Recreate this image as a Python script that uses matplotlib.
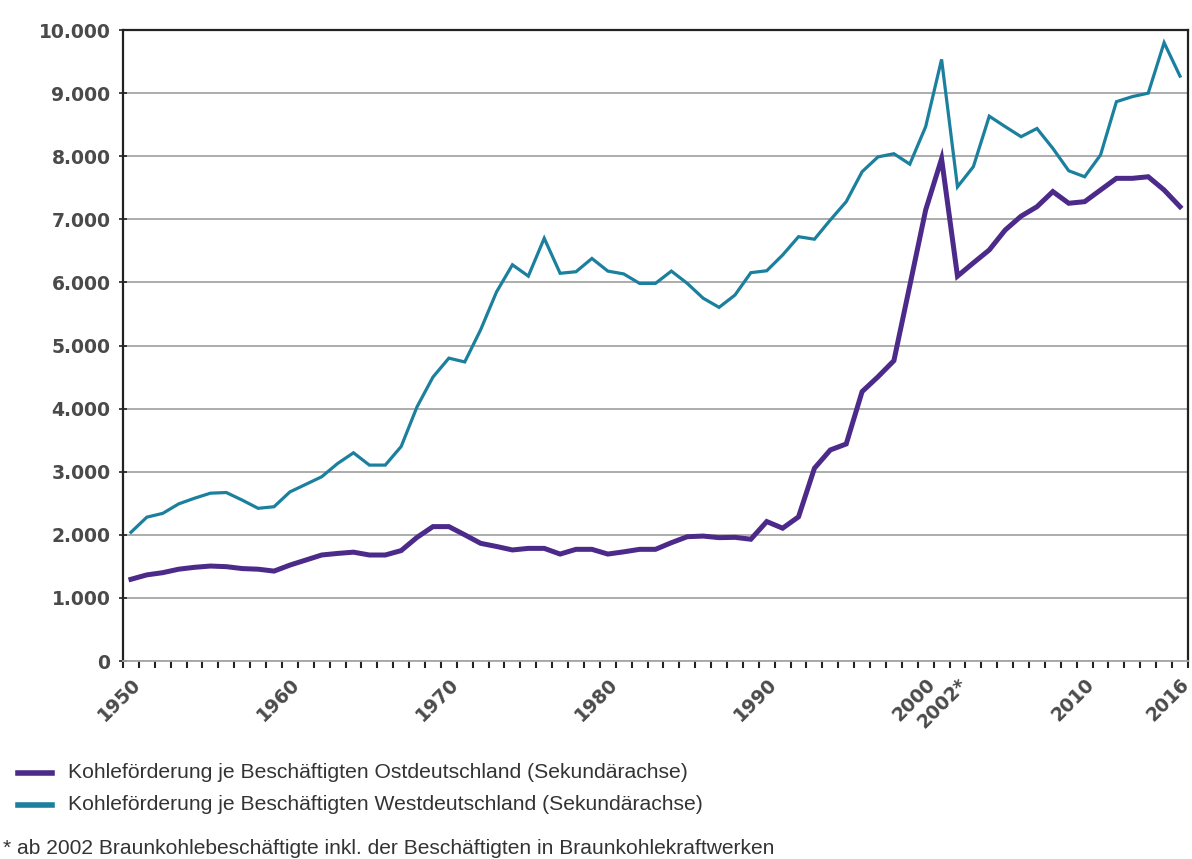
import numpy as np
import matplotlib
matplotlib.use("Agg")
import matplotlib.pyplot as plt
from matplotlib.ticker import FuncFormatter, FixedLocator

PURPLE, TEAL, GRID = "#4B2A8A", "#1B7F9E", "#a6a6a6"

years = list(range(1950, 2017))
west = [2040, 2280, 2340, 2490, 2580, 2660, 2670, 2550, 2420, 2445,
        2680, 2800, 2920, 3130, 3300, 3105, 3105, 3400, 4030, 4500,
        4800, 4740, 5250, 5850, 6280, 6100, 6700, 6145, 6170, 6380,
        6180, 6135, 5985, 5985, 6180, 5985, 5750, 5605, 5800, 6155,
        6185, 6435, 6725, 6685, 6990, 7280, 7755, 7990, 8040, 7875,
        8470, 9535, 7515, 7835, 8635, 8470, 8310, 8440, 8125, 7770,
        7675, 8020, 8865, 8945, 9000, 9800, 9270]
east = [1295, 1365, 1400, 1455, 1485, 1505, 1495, 1465, 1455, 1425,
        1520, 1600, 1680, 1705, 1725, 1680, 1680, 1750, 1960, 2130,
        2130, 2000, 1865, 1815, 1760, 1785, 1785, 1695, 1770, 1770,
        1695, 1730, 1770, 1770, 1875, 1970, 1980, 1955, 1960, 1930,
        2210, 2105, 2285, 3055, 3345, 3440, 4270, 4505, 4760, 5950,
        7150, 7960, 6100, 6310, 6515, 6830, 7050, 7200, 7440, 7255,
        7280, 7465, 7650, 7650, 7675, 7465, 7200]
label_years = [1950, 1960, 1970, 1980, 1990, 2000, 2002, 2010, 2016]
label_text = ["1950", "1960", "1970", "1980", "1990", "2000", "2002*", "2010", "2016"]

fig = plt.figure(figsize=(11.92, 8.59), dpi=100)
ax = fig.add_axes([0.1032, 0.2305, 0.8934, 0.7345])

ax.plot(years, west, color=TEAL, lw=2.3, solid_joinstyle="miter", zorder=3)
ax.plot(years, east, color=PURPLE, lw=3.6, solid_joinstyle="miter", zorder=4)

ax.set_xlim(1949.5, 2016.5)
ax.set_ylim(0, 10000)
ax.set_yticks(range(0, 10001, 1000))
ax.yaxis.set_major_formatter(FuncFormatter(lambda v, _: f"{int(v):,}".replace(",", ".")))
ax.grid(axis="y", color=GRID, lw=1.3, zorder=1)

ax.set_xticks(label_years)
ax.set_xticklabels(label_text, rotation=45, ha="right", va="top", rotation_mode="anchor")
ax.xaxis.set_minor_locator(FixedLocator(np.arange(1949.5, 2017, 1)))
ax.tick_params(axis="x", which="major", length=0, pad=10)
ax.tick_params(axis="x", which="minor", length=5, width=1.5, color="#222222", direction="out")
ax.tick_params(axis="y", length=6, width=1.2, direction="inout", color="#222222", pad=6)
for lab in ax.get_xticklabels() + ax.get_yticklabels():
    lab.set_fontfamily("DejaVu Sans")
    lab.set_fontweight("bold")
    lab.set_fontsize(13.5)
    lab.set_color("#4a4a4a")

for side in ["left", "right", "top"]:
    ax.spines[side].set_color("#222222")
    ax.spines[side].set_linewidth(1.6)
ax.spines["bottom"].set_color(GRID)
ax.spines["bottom"].set_linewidth(1.3)

# legend and footnote drawn below the axes
leg_items = [(PURPLE, "Kohleförderung je Beschäftigten Ostdeutschland (Sekundärachse)", 773),
             (TEAL, "Kohleförderung je Beschäftigten Westdeutschland (Sekundärachse)", 805)]
for color, text, ypix in leg_items:
    yf = 1 - ypix / 859
    fig.add_artist(plt.Line2D([18 / 1192, 52 / 1192], [yf, yf], color=color, lw=4))
    fig.text(68 / 1192, yf, text, fontsize=15.2, family="Liberation Sans",
             color="#333333", va="center", ha="left")
fig.text(3 / 1192, 1 - 848 / 859,
         "* ab 2002 Braunkohlebeschäftigte inkl. der Beschäftigten in Braunkohlekraftwerken",
         fontsize=15.1, family="Liberation Sans", color="#333333", va="center", ha="left")

fig.savefig("out.png", dpi=100, facecolor="white")
